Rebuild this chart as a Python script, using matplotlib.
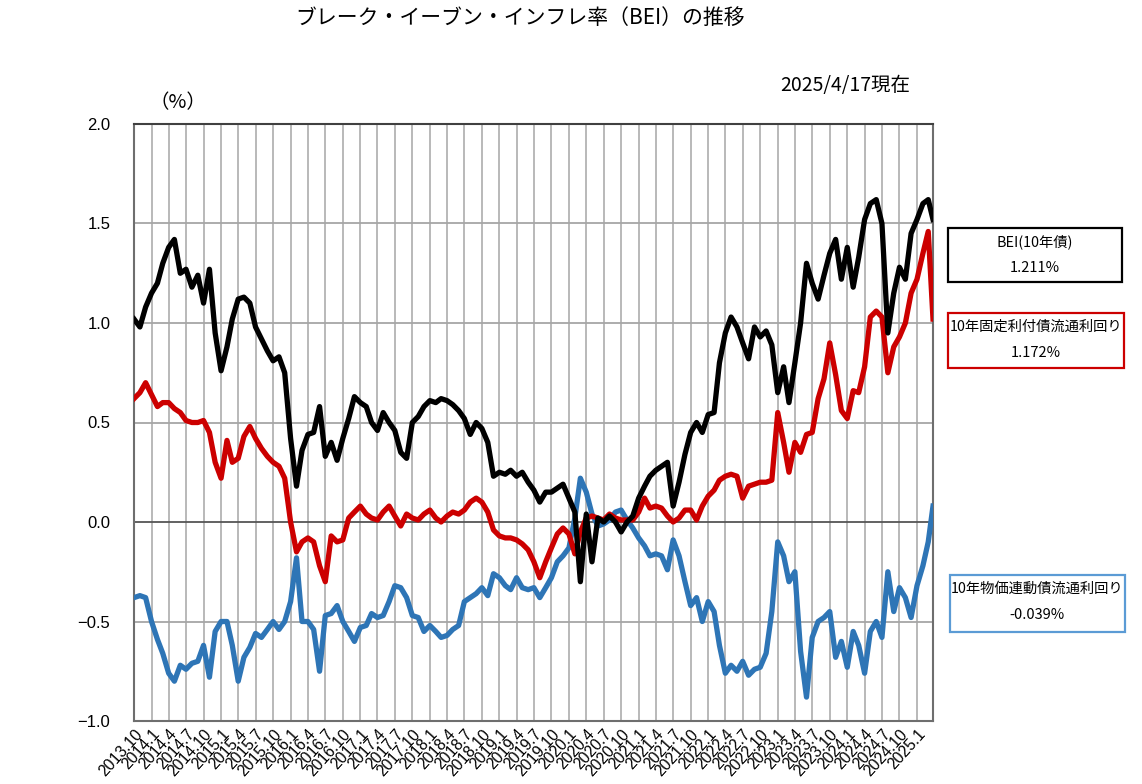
import numpy as np
import pandas as pd
import matplotlib
matplotlib.use('Agg')
import matplotlib.pyplot as plt
from matplotlib.patches import Rectangle

plt.rcParams['font.family'] = ['Noto Sans CJK JP', 'DejaVu Sans']

# monthly readings from 2013.10, last point = right edge of the chart
x_start = pd.Timestamp('2013-10-01')
x_end = pd.Timestamp('2025-03-26')
dates = list(pd.date_range(x_start, periods=138, freq='MS')) + [x_end]

bei = [1.02, 0.98, 1.08, 1.15, 1.20, 1.30, 1.38, 1.42, 1.25, 1.27,
       1.18, 1.24, 1.10, 1.27, 0.95, 0.76, 0.88, 1.02, 1.12, 1.13,
       1.10, 0.98, 0.92, 0.86, 0.81, 0.83, 0.75, 0.42, 0.18, 0.36,
       0.44, 0.45, 0.58, 0.33, 0.40, 0.31, 0.42, 0.52, 0.63, 0.60,
       0.58, 0.50, 0.46, 0.55, 0.50, 0.46, 0.35, 0.32, 0.50, 0.53,
       0.58, 0.61, 0.60, 0.62, 0.61, 0.59, 0.56, 0.52, 0.44, 0.50,
       0.47, 0.40, 0.23, 0.25, 0.24, 0.26, 0.23, 0.25, 0.20, 0.16,
       0.10, 0.15, 0.15, 0.17, 0.19, 0.12, 0.05, -0.30, 0.04, -0.20,
       0.02, 0.00, 0.03, 0.00, -0.05, 0.00, 0.03, 0.12, 0.18, 0.23,
       0.26, 0.28, 0.30, 0.08, 0.20, 0.34, 0.45, 0.50, 0.45, 0.54,
       0.55, 0.80, 0.95, 1.03, 0.98, 0.90, 0.82, 0.98, 0.93, 0.96,
       0.89, 0.65, 0.78, 0.60, 0.80, 1.00, 1.30, 1.20, 1.12, 1.24,
       1.35, 1.42, 1.22, 1.38, 1.18, 1.33, 1.52, 1.60, 1.62, 1.50,
       0.95, 1.15, 1.28, 1.22, 1.45, 1.52, 1.60, 1.62, 1.52]

fixed = [0.62, 0.65, 0.70, 0.64, 0.58, 0.60, 0.60, 0.57, 0.55, 0.51,
         0.50, 0.50, 0.51, 0.45, 0.30, 0.22, 0.41, 0.30, 0.32, 0.43,
         0.48, 0.42, 0.37, 0.33, 0.30, 0.28, 0.22, 0.00, -0.15, -0.10,
         -0.08, -0.10, -0.22, -0.30, -0.07, -0.10, -0.09, 0.02, 0.05, 0.08,
         0.04, 0.02, 0.01, 0.05, 0.08, 0.03, -0.02, 0.04, 0.02, 0.01,
         0.04, 0.06, 0.02, 0.00, 0.03, 0.05, 0.04, 0.06, 0.10, 0.12,
         0.10, 0.05, -0.04, -0.07, -0.08, -0.08, -0.09, -0.11, -0.14, -0.20,
         -0.28, -0.20, -0.13, -0.06, -0.03, -0.06, -0.16, -0.05, 0.02, 0.03,
         0.02, 0.01, 0.04, 0.02, 0.01, 0.01, 0.01, 0.05, 0.12, 0.07,
         0.08, 0.07, 0.03, 0.00, 0.02, 0.06, 0.06, 0.01, 0.08, 0.13,
         0.16, 0.21, 0.23, 0.24, 0.23, 0.12, 0.18, 0.19, 0.20, 0.20,
         0.21, 0.55, 0.40, 0.25, 0.40, 0.35, 0.44, 0.45, 0.62, 0.72,
         0.90, 0.74, 0.56, 0.52, 0.66, 0.65, 0.78, 1.03, 1.06, 1.03,
         0.75, 0.88, 0.93, 1.00, 1.15, 1.22, 1.35, 1.46, 1.02]

linked = [-0.38, -0.37, -0.38, -0.50, -0.59, -0.66, -0.76, -0.80, -0.72, -0.74,
          -0.71, -0.70, -0.62, -0.78, -0.55, -0.50, -0.50, -0.62, -0.80, -0.68,
          -0.63, -0.56, -0.58, -0.54, -0.50, -0.54, -0.50, -0.40, -0.18, -0.50,
          -0.50, -0.54, -0.75, -0.47, -0.46, -0.42, -0.50, -0.55, -0.60, -0.53,
          -0.52, -0.46, -0.48, -0.47, -0.40, -0.32, -0.33, -0.38, -0.47, -0.48,
          -0.55, -0.52, -0.55, -0.58, -0.57, -0.54, -0.52, -0.40, -0.38, -0.36,
          -0.33, -0.37, -0.26, -0.28, -0.32, -0.34, -0.28, -0.33, -0.34, -0.33,
          -0.38, -0.33, -0.28, -0.20, -0.17, -0.13, 0.02, 0.22, 0.15, 0.04,
          -0.02, -0.01, 0.01, 0.05, 0.06, 0.01, -0.03, -0.08, -0.12, -0.17,
          -0.16, -0.17, -0.24, -0.09, -0.17, -0.30, -0.42, -0.38, -0.50, -0.40,
          -0.45, -0.62, -0.76, -0.72, -0.75, -0.70, -0.77, -0.74, -0.73, -0.66,
          -0.45, -0.10, -0.17, -0.30, -0.25, -0.65, -0.88, -0.58, -0.50, -0.48,
          -0.45, -0.68, -0.60, -0.73, -0.55, -0.62, -0.76, -0.55, -0.50, -0.58,
          -0.25, -0.45, -0.33, -0.38, -0.48, -0.32, -0.22, -0.10, 0.08]

tick_dates = pd.date_range('2013-10-01', '2025-01-01', freq='QS-OCT')
tick_labels = [f'{d.year}.{d.month}' for d in tick_dates]

legend_names = ['BEI(10年債)', '10年固定利付債流通利回り', '10年物価連動債流通利回り']
legend_values = ['1.211%', '1.172%', '-0.039%']

W, H = 1142, 784
fig = plt.figure(figsize=(W / 100, H / 100), dpi=100)
ax = fig.add_axes([134 / W, 1 - 721 / H, 799 / W, 597 / H])

# grid
for d in tick_dates[1:]:
    ax.axvline(d, color='#b3b3b3', linewidth=1.3, zorder=1)
for v in [-0.5, 0.5, 1.0, 1.5]:
    ax.axhline(v, color='#a6a6a6', linewidth=1.3, zorder=1)
ax.axhline(0, color='#555555', linewidth=1.3, zorder=1)

ax.plot(dates, linked, color='#2e75b6', linewidth=3.8, zorder=3, solid_joinstyle='round')
ax.plot(dates, fixed, color='#cc0000', linewidth=3.8, zorder=4, solid_joinstyle='round')
ax.plot(dates, bei, color='#000000', linewidth=3.8, zorder=5, solid_joinstyle='round')

ax.set_xlim(x_start, x_end)
ax.set_ylim(-1.0, 2.0)
yt = np.arange(-1.0, 2.01, 0.5)
ax.set_yticks(yt)
ax.set_yticklabels([f'{v:.1f}'.replace('-', '−') for v in yt],
                   family='Liberation Sans', fontsize=12)
ax.set_xticks(tick_dates)
ax.set_xticklabels(tick_labels, rotation=48, ha='right', va='top',
                   rotation_mode='anchor', family='Liberation Sans', fontsize=11.3)
ax.tick_params(axis='both', length=0)
ax.tick_params(axis='y', pad=17)
ax.tick_params(axis='x', pad=4)

for side in ['left', 'right', 'bottom', 'top']:
    ax.spines[side].set_color('#6e6e6e')
    ax.spines[side].set_linewidth(1.5)
ax.spines['top'].set_color('#404040')

fig.text(520 / W, 1 - 18 / H, 'ブレーク・イーブン・インフレ率（BEI）の推移',
         ha='center', va='center', fontsize=15)
fig.text(910 / W, 1 - 85 / H, '2025/4/17現在', ha='right', va='center', fontsize=14)
fig.text(178 / W, 1 - 103 / H, '（%）', ha='center', va='center', fontsize=14)

# value boxes on the right
boxes = [(948, 228, 1122, 282, '#000000'),
         (948, 313, 1124, 368, '#cc0000'),
         (950, 575, 1125, 632, '#5b9bd5')]
for (x0, y0, x1, y1, ec), name, val in zip(boxes, legend_names, legend_values):
    fig.patches.append(Rectangle((x0 / W, 1 - y1 / H), (x1 - x0) / W, (y1 - y0) / H,
                                 transform=fig.transFigure, fill=False,
                                 edgecolor=ec, linewidth=1.6))
    cx = (x0 + x1) / 2 / W
    fig.text(cx, 1 - (y0 + 14) / H, name, ha='center', va='center', fontsize=10.3)
    fig.text(cx, 1 - (y0 + 40) / H, val, ha='center', va='center', fontsize=10.5)

fig.savefig('out.png', dpi=100)
